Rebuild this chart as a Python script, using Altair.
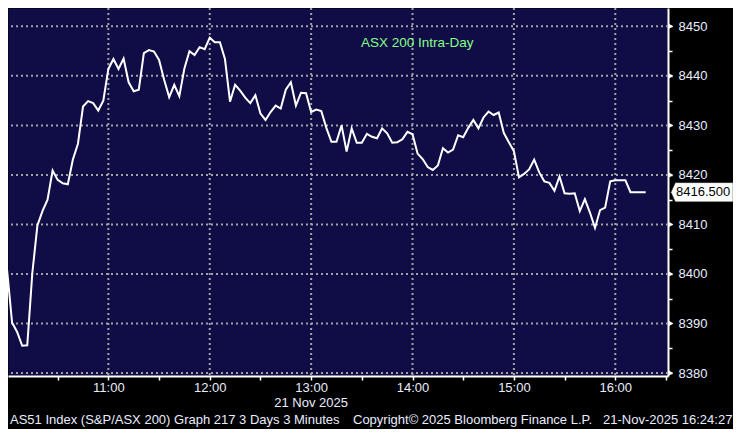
import altair as alt
import pandas as pd

# ---- data (3-minute bars from 10:00) ----
values = [
    8401.0, 8390.2, 8388.3, 8385.5, 8385.6, 8400.2, 8409.8, 8412.7, 8415.0, 8420.9,
    8419.0, 8418.3, 8418.1, 8423.1, 8426.3, 8433.8, 8434.9, 8434.5, 8433.0, 8435.0,
    8441.4, 8443.4, 8441.4, 8443.5, 8438.7, 8436.9, 8437.2, 8444.6, 8445.2, 8444.9,
    8443.2, 8439.2, 8435.7, 8438.2, 8435.9, 8441.5, 8445.0, 8444.2, 8445.8, 8445.4,
    8447.7, 8446.8, 8446.8, 8443.4, 8434.8, 8438.2, 8437.0, 8435.6, 8434.5, 8436.1,
    8432.4, 8431.1, 8432.7, 8434.0, 8433.4, 8437.2, 8438.7, 8434.0, 8436.6, 8436.5,
    8432.7, 8433.2, 8432.9, 8429.5, 8426.7, 8426.7, 8430.0, 8424.7, 8429.4, 8426.5,
    8426.5, 8428.3, 8427.7, 8427.4, 8429.4, 8428.4, 8426.5, 8426.6, 8427.2, 8428.7,
    8428.2, 8424.3, 8423.2, 8421.6, 8421.0, 8421.9, 8425.4, 8424.5, 8425.1, 8428.0,
    8427.6, 8429.5, 8431.1, 8429.4, 8431.6, 8432.8, 8432.1, 8432.6, 8428.5, 8426.6,
    8424.8, 8419.5, 8420.2, 8421.1, 8423.1, 8420.5, 8418.7, 8418.4, 8416.8, 8419.7,
    8416.3, 8416.2, 8416.3, 8412.7, 8415.1, 8412.4, 8409.3, 8412.9, 8413.4, 8418.7,
    8418.9, 8418.9, 8418.9, 8416.5, 8416.5, 8416.5, 8416.5,
]
bar_minutes = 3  # minutes after 10:00 per bar
minutes = [bar_minutes * i for i in range(len(values))]

grid_levels = [8380, 8390, 8400, 8410, 8420, 8430, 8440, 8450]
tick_levels = [8380, 8385, 8390, 8395, 8400, 8405, 8410, 8415, 8420, 8425,
               8430, 8435, 8440, 8445, 8450]
hour_minutes = [60, 120, 180, 240, 300, 360]
tick_minutes = [30, 60, 90, 120, 150, 180, 210, 240, 270, 300, 330, 360, 390]

last_value = 8416.5
last_label = "8416.500"
title_text = "ASX 200 Intra-Day"
date_text = "21 Nov 2025"
date_minute = 180
footer_left = "AS51 Index (S&P/ASX 200) Graph 217 3 Days 3 Minutes"
footer_mid = "Copyright\u00a9 2025 Bloomberg Finance L.P."
footer_right = "21-Nov-2025 16:24:27"

# ---- layout / style ----
W, H = 660, 368
FONT = "Liberation Sans"
NAVY = "#100c46"
TXT = "#e8eeff"
GRID = "#a2a2a2"

xs = alt.Scale(domain=[0.6, 391.2], nice=False, zero=False)
ys = alt.Scale(domain=[8379.4, 8453.7], nice=False, zero=False)

line_df = pd.DataFrame({"minute": minutes, "value": values})
lev_df = pd.DataFrame({"level": grid_levels})
hr_df = pd.DataFrame({"minute": hour_minutes})

x_axis = alt.Axis(
    values=tick_minutes,
    labelExpr="datum.value % 60 == 0 ? (floor(datum.value / 60) + 10) + ':00' : ''",
    grid=False, title=None, domainColor="white", domainWidth=2,
    tickColor="white", tickSize=4, tickWidth=1.5, labelColor=TXT, labelFont=FONT,
    labelFontSize=13, labelPadding=1, labelFlush=False, labelOverlap=False,
)
y_axis = alt.Axis(
    orient="right", values=tick_levels, format="d",
    labelExpr="datum.value % 10 == 0 ? datum.label : ''",
    grid=False, title=None, domainColor="white", domainWidth=2,
    tickColor="white", tickSize=4, tickWidth=1.5, labelColor=TXT, labelFont=FONT,
    labelFontSize=13, labelPadding=6, labelBaseline="middle", labelOverlap=False,
    labelFlush=False,
)

X = lambda f: alt.X(f, scale=xs, axis=x_axis)
Y = lambda f: alt.Y(f, scale=ys, axis=y_axis)

hgrid = alt.Chart(lev_df).mark_rule(
    color=GRID, strokeDash=[2, 3], strokeWidth=2
).encode(y=Y("level:Q"))

vgrid = alt.Chart(hr_df).mark_rule(
    color=GRID, strokeDash=[2, 3], strokeWidth=2
).encode(x=X("minute:Q"))

line = alt.Chart(line_df).mark_line(
    color="white", strokeWidth=2, clip=True
).encode(x=X("minute:Q"), y=Y("value:Q"))

arrows = alt.Chart(lev_df).mark_point(
    shape="triangle-right", filled=True, color="white", size=28, opacity=1
).encode(x=alt.value(W + 3), y=Y("level:Q"))

box_path = "M-1,0 L-0.86,-0.31 L1,-0.31 L1,0.31 L-0.86,0.31 Z"
last_df = pd.DataFrame({"value": [last_value], "label": [last_label]})
last_box = alt.Chart(last_df).mark_point(
    shape=box_path, filled=True, color="white", size=62 * 62, opacity=1,
    stroke="#333333", strokeWidth=0.5
).encode(x=alt.value(W + 34), y=Y("value:Q"))
last_text = alt.Chart(last_df).mark_text(
    font=FONT, fontSize=13, color="black", align="left", baseline="middle"
).encode(x=alt.value(W + 8), y=Y("value:Q"), text="label:N")

title = alt.Chart(pd.DataFrame({"t": [title_text]})).mark_text(
    font=FONT, fontSize=13.5, color="#86ff86", align="center", baseline="middle"
).encode(x=alt.value(0.62 * W), y=alt.value(35), text="t:N")

date = alt.Chart(pd.DataFrame({"minute": [date_minute], "t": [date_text]})).mark_text(
    font=FONT, fontSize=13, color=TXT, align="center", baseline="middle"
).encode(x=X("minute:Q"), y=alt.value(H + 27), text="t:N")

foot_df = pd.DataFrame({"t": [footer_left, footer_mid, footer_right],
                        "px": [2, 345, 595]})
footer = alt.Chart(foot_df).mark_text(
    font=FONT, fontSize=13, color=TXT, align="left", baseline="middle"
).encode(x=alt.X("px:Q", scale=None), y=alt.value(H + 44), text="t:N")

chart = alt.layer(
    hgrid, vgrid, line, arrows, last_box, last_text, title, date, footer
).properties(
    width=W, height=H,
    autosize=alt.AutoSizeParams(type="none"),
    padding={"left": 0, "top": 0, "right": 65, "bottom": 53},
    background="#000000",
).configure_view(fill=NAVY, stroke="transparent")

chart.save("out.html", embed_options={"renderer": "svg", "actions": False})
